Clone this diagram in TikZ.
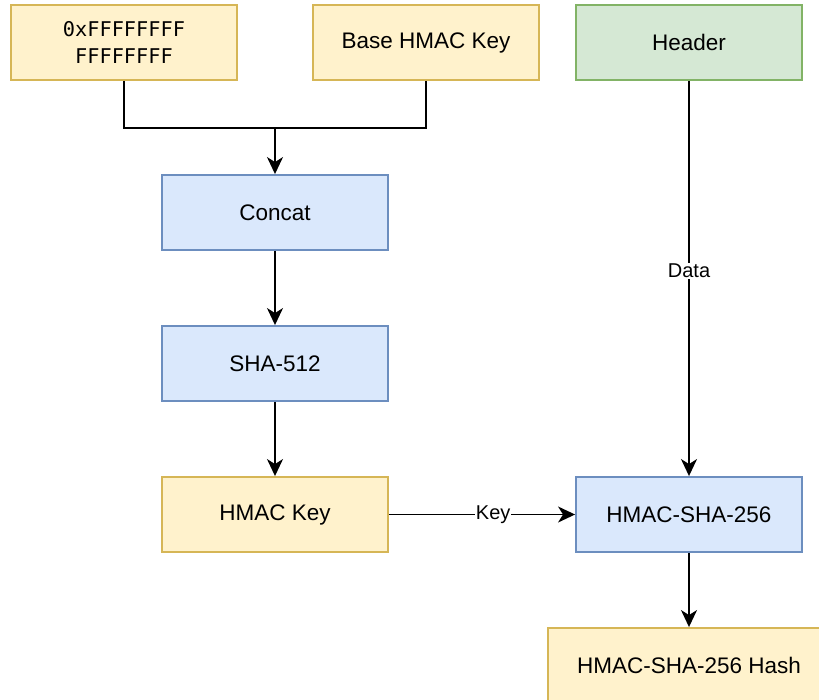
\documentclass[tikz,border=0pt]{standalone}
\usepackage{fontspec}
\setmainfont{Liberation Sans}
\newfontfamily\codefont{DejaVu Sans Mono}
\usetikzlibrary{arrows.meta,calc}
\definecolor{yfill}{HTML}{FFF2CC}
\definecolor{ydraw}{HTML}{D6B656}
\definecolor{bfill}{HTML}{DAE8FC}
\definecolor{bdraw}{HTML}{6C8EBF}
\definecolor{gfill}{HTML}{D5E8D4}
\definecolor{gdraw}{HTML}{82B366}
\tikzset{
  box/.style={draw, line width=1.9pt, minimum width=226pt, minimum height=75pt,
    inner sep=0pt, align=center, font=\fontsize{22.5}{27}\selectfont},
  yellowbox/.style={box, fill=yfill, draw=ydraw},
  bluebox/.style={box, fill=bfill, draw=bdraw},
  greenbox/.style={box, fill=gfill, draw=gdraw},
  link/.style={line width=1.6pt, -{Stealth[length=17pt,width=16pt,inset=5pt]}},
  plainlink/.style={line width=1.6pt},
  tag/.style={fill=white, inner sep=1pt, font=\fontsize{20}{20}\selectfont}
}
\begin{document}
\begin{tikzpicture}[x=1pt,y=-1pt]
\useasboundingbox (0,0) rectangle (819,699);
\clip (0,0) rectangle (819,699);
% input values
\node[yellowbox] (ones) at (124,42.5) {\fontsize{20.3}{27}\codefont 0xFFFFFFFF\\\fontsize{20.3}{27}\codefont FFFFFFFF};
\node[yellowbox] (base) at (426,42.5) {Base HMAC Key};
\node[greenbox] (header) at (689,42.5) {Header};
% key derivation chain
\node[bluebox] (concat) at (275,212.5) {Concat};
\node[bluebox] (sha) at (275,363.5) {SHA-512};
\node[yellowbox] (hkey) at (275,514.5) {HMAC Key};
% MAC computation
\node[bluebox] (mac) at (689,514.5) {HMAC-SHA-256};
\node[yellowbox, minimum width=282pt] (hash) at (689,665.5) {HMAC-SHA-256 Hash};
\coordinate (join) at (275,128);
\draw[plainlink] (ones.south) |- (join);
\draw[plainlink] (base.south) |- (join);
\draw[link] (join) -- (concat.north);
\draw[link] (concat) -- (sha);
\draw[link] (sha) -- (hkey);
\draw[link] (header) -- node[tag, pos=0.48] {Data} (mac);
\draw[link] (hkey) -- node[tag, pos=0.56] {Key} (mac);
\draw[link] (mac) -- (hash);
\end{tikzpicture}
\end{document}
